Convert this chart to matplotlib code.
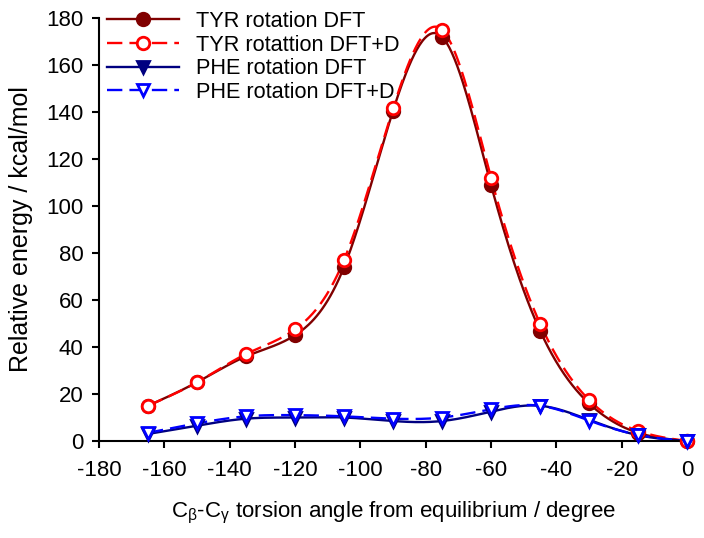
import numpy as np
import matplotlib
matplotlib.use("Agg")
import matplotlib.pyplot as plt

angles = [-165, -150, -135, -120, -105, -90, -75, -60, -45, -30, -15, 0]
tyr_dft = [15, 25, 36, 45, 74, 140.5, 172, 109, 47, 16, 3.5, 0]
tyr_dftd = [15, 25, 37, 47.5, 77, 141.5, 175, 112, 50, 17.5, 4.3, 0]
phe_dft = [3, 6.5, 9.5, 10, 10, 8.5, 8.5, 12.5, 15, 9, 2.5, 0]
phe_dftd = [3.5, 7.5, 10.5, 11, 10.5, 9.5, 10, 13.5, 15, 8.7, 2.6, 0]
labels = ["TYR rotation DFT", "TYR rotattion DFT+D", "PHE rotation DFT", "PHE rotation DFT+D"]
xticks = list(range(-180, 1, 20))
yticks = list(range(0, 181, 20))

plt.rcParams['font.family'] = ['Liberation Sans', 'DejaVu Sans']
plt.rcParams['mathtext.fontset'] = 'custom'
plt.rcParams['mathtext.rm'] = 'Liberation Sans'
plt.rcParams['mathtext.it'] = 'Liberation Sans:italic'
plt.rcParams['axes.unicode_minus'] = False


def natural_spline(x, y, n=400):
    x = np.asarray(x, float)
    y = np.asarray(y, float)
    k = len(x)
    h = np.diff(x)
    A = np.zeros((k, k))
    b = np.zeros(k)
    A[0, 0] = 1
    A[-1, -1] = 1
    for i in range(1, k - 1):
        A[i, i - 1] = h[i - 1]
        A[i, i] = 2 * (h[i - 1] + h[i])
        A[i, i + 1] = h[i]
        b[i] = 3 * ((y[i + 1] - y[i]) / h[i] - (y[i] - y[i - 1]) / h[i - 1])
    c = np.linalg.solve(A, b)
    xs = np.linspace(x[0], x[-1], n)
    idx = np.clip(np.searchsorted(x, xs) - 1, 0, k - 2)
    dx = xs - x[idx]
    hi = h[idx]
    bb = (y[idx + 1] - y[idx]) / hi - hi * (2 * c[idx] + c[idx + 1]) / 3
    dd = (c[idx + 1] - c[idx]) / (3 * hi)
    ys = y[idx] + bb * dx + c[idx] * dx ** 2 + dd * dx ** 3
    return xs, ys


W, H = 704, 538
fig = plt.figure(figsize=(W / 100, H / 100), dpi=100)
ax = fig.add_axes([99 / W, 1 - 441 / H, (687 - 99) / W, (441 - 18) / H])

series = [
    (tyr_dft, '#800000', '-', 'o', '#800000'),
    (tyr_dftd, '#ff0000', (0, (6.5, 3)), 'o', 'white'),
    (phe_dft, '#000080', '-', 'v', '#000080'),
    (phe_dftd, '#0000ff', (0, (6.5, 3)), 'v', 'white'),
]
handles = []
for (vals, col, ls, mk, fc), lab in zip(series, labels):
    xs, ys = natural_spline(angles, vals)
    ax.plot(xs, ys, color=col, linestyle=ls, lw=1.7, zorder=2, clip_on=False)
    ax.plot(angles, vals, linestyle='none', marker=mk, markersize=9, clip_on=False,
            markerfacecolor=fc, markeredgecolor=col, markeredgewidth=2, zorder=3)
    h, = ax.plot([], [], color=col, linestyle=ls, lw=1.7, marker=mk, markersize=9,
                 markerfacecolor=fc, markeredgecolor=col, markeredgewidth=2)
    handles.append(h)

ax.set_xlim(-180, 0)
ax.set_ylim(0, 180)
ax.set_xticks(xticks)
ax.set_yticks(yticks)
ax.tick_params(direction='out', length=5, width=1.5, labelsize=16, pad=6)
ax.tick_params(axis='x', pad=9)
for s in ['top', 'right']:
    ax.spines[s].set_visible(False)
for s in ['left', 'bottom']:
    ax.spines[s].set_linewidth(1.5)
ax.set_xlabel('C$_\\mathregular{β}$-C$_\\mathregular{γ}$ torsion angle from equilibrium / degree',
              fontsize=16, labelpad=13)
ax.set_ylabel('Relative energy / kcal/mol', fontsize=18, labelpad=10)
ax.legend(handles, labels, loc='upper left', bbox_to_anchor=(107 / W, 1 - 11 / H),
          bbox_transform=fig.transFigure, frameon=False,
          fontsize=15.6, handlelength=3.3, handletextpad=0.8, labelspacing=0.12,
          borderaxespad=0, borderpad=0)

fig.savefig('out.png', dpi=100)
